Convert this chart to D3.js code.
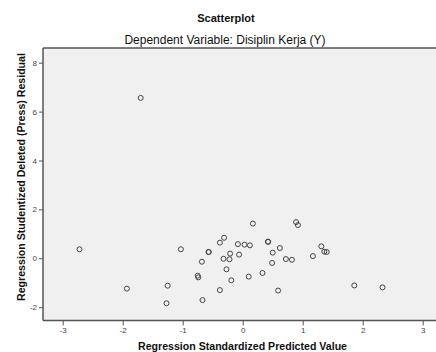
<!DOCTYPE html>
<html>
<head>
<meta charset="utf-8">
<script src="https://cdn.jsdelivr.net/npm/d3@7"></script>
<style>
  body { margin: 0; background: #fff; }
  svg { font-family: "Liberation Sans", Arial, sans-serif; }
</style>
</head>
<body>
<div id="chart"></div>
<script>
// values
var predicted = [-2.72, -1.93, -1.03, -1.25, -1.27, -0.75, -0.74, -0.68, -0.67, -0.57, -0.565,
  -0.38, -0.31, -0.32, -0.27, -0.21, -0.22, -0.19, -0.38, -0.08, -0.06, 0.03, 0.12, 0.10,
  0.17, 0.42, 0.425, 0.33, 0.50, 0.49, 0.62, 0.59, 0.72, 0.82, 0.89, 0.92, 1.17, 1.31,
  1.36, 1.40, 1.86, 2.33, -1.70]
var residual = [0.37, -1.24, 0.37, -1.12, -1.84, -0.71, -0.78, -0.14, -1.71, 0.26, 0.255,
  0.64, 0.84, -0.02, -0.45, 0.19, -0.04, -0.90, -1.30, 0.58, 0.15, 0.56, 0.53, -0.75,
  1.42, 0.68, 0.675, -0.60, 0.23, -0.19, 0.42, -1.32, -0.03, -0.06, 1.48, 1.36, 0.09, 0.49,
  0.27, 0.26, -1.11, -1.19, 6.56]
var xTicks = [-3, -2, -1, 0, 1, 2, 3]
var yTicks = [-2, 0, 2, 4, 6, 8]

var points = predicted.map(function(d, i) { return { x: d, y: residual[i] } })

var width = 436, height = 352
var frame = { left: 43, right: 436, top: 48, bottom: 320.5 }

var svg = d3.select("#chart").append("svg")
  .attr("width", width)
  .attr("height", height)

var xPositionScale = d3.scaleLinear().domain([-3, 3]).range([62.7, 422.7])
var yPositionScale = d3.scaleLinear().domain([-2, 8]).range([307.2, 62.7])

// titles
svg.append("text")
  .attr("x", 226).attr("y", 22)
  .attr("text-anchor", "middle")
  .attr("font-size", 11).attr("font-weight", "bold")
  .attr("fill", "#111")
  .text("Scatterplot")

svg.append("text")
  .attr("x", 225).attr("y", 44)
  .attr("text-anchor", "middle")
  .attr("font-size", 12)
  .attr("fill", "#111")
  .text("Dependent Variable: Disiplin Kerja (Y)")

// plot background
svg.append("rect")
  .attr("x", frame.left).attr("y", frame.top)
  .attr("width", frame.right - frame.left)
  .attr("height", frame.bottom - frame.top)
  .attr("fill", "#f0f0f0")

// frame lines
svg.append("line")
  .attr("x1", frame.left).attr("x2", frame.right)
  .attr("y1", frame.top).attr("y2", frame.top)
  .attr("stroke", "#555").attr("stroke-width", 1.5)
svg.append("line")
  .attr("x1", frame.left).attr("x2", frame.left)
  .attr("y1", frame.top).attr("y2", frame.bottom)
  .attr("stroke", "#555").attr("stroke-width", 1.5)
svg.append("line")
  .attr("x1", frame.left).attr("x2", frame.right)
  .attr("y1", frame.bottom).attr("y2", frame.bottom)
  .attr("stroke", "#555").attr("stroke-width", 1.5)

// axes (plain hyphen labels like the original)
var tickFmt = function(d) { return String(d) }

var yAxis = d3.axisLeft(yPositionScale).tickValues(yTicks).tickFormat(tickFmt)
  .tickSize(4).tickPadding(2)
svg.append("g")
  .attr("class", "axis y-axis")
  .attr("transform", "translate(" + frame.left + ",0)")
  .call(yAxis)

var xAxis = d3.axisBottom(xPositionScale).tickValues(xTicks).tickFormat(tickFmt)
  .tickSize(5).tickPadding(2)
svg.append("g")
  .attr("class", "axis x-axis")
  .attr("transform", "translate(0," + frame.bottom + ")")
  .call(xAxis)

svg.selectAll(".axis .domain").remove()
svg.selectAll(".axis line").attr("stroke", "#555")
svg.selectAll(".axis text")
  .attr("font-size", 8)
  .attr("font-family", "Liberation Sans, Arial, sans-serif")
  .attr("fill", "#444")

// axis titles
svg.append("text")
  .attr("x", 242.5).attr("y", 350)
  .attr("text-anchor", "middle")
  .attr("font-size", 10.6).attr("font-weight", "bold")
  .attr("fill", "#111")
  .text("Regression Standardized Predicted Value")

svg.append("text")
  .attr("transform", "translate(25,177) rotate(-90)")
  .attr("text-anchor", "middle")
  .attr("font-size", 10.6).attr("font-weight", "bold")
  .attr("fill", "#111")
  .text("Regression Studentized Deleted (Press) Residual")

// points
svg.selectAll("circle.pt")
  .data(points)
  .enter().append("circle")
  .attr("class", "pt")
  .attr("r", 2.5)
  .attr("cx", function(d) { return xPositionScale(d.x) })
  .attr("cy", function(d) { return yPositionScale(d.y) })
  .attr("fill", "none")
  .attr("stroke", "#444")
  .attr("stroke-width", 1)
</script>
</body>
</html>
